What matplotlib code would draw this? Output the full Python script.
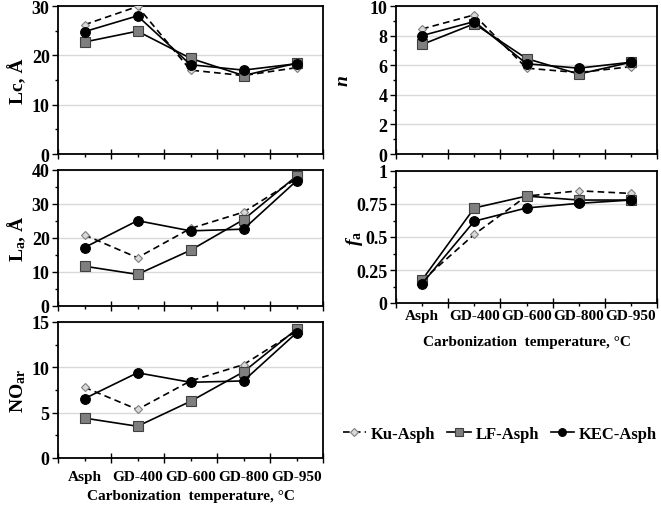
import matplotlib
matplotlib.use("Agg")
import matplotlib.pyplot as plt
from matplotlib.ticker import MultipleLocator, FixedLocator, NullFormatter, FuncFormatter
from matplotlib.lines import Line2D

plt.rcParams['font.family'] = ['Liberation Serif', 'DejaVu Serif']
plt.rcParams['font.weight'] = 'bold'
plt.rcParams['mathtext.fontset'] = 'custom'
plt.rcParams['mathtext.rm'] = 'Liberation Serif:bold'
plt.rcParams['mathtext.it'] = 'Liberation Serif:bold:italic'
plt.rcParams['mathtext.bf'] = 'Liberation Serif:bold'

categories = ["Asph", "GD-400", "GD-600", "GD-800", "GD-950"]
series_names = ["Ku-Asph", "LF-Asph", "KEC-Asph"]

lc_ku = [26.2, 29.9, 17.0, 15.9, 17.5]
lc_lf = [22.7, 24.9, 19.4, 15.9, 18.4]
lc_kec = [24.8, 28.0, 18.1, 17.0, 18.3]

n_ku = [8.45, 9.4, 5.8, 5.5, 5.9]
n_lf = [7.4, 8.8, 6.45, 5.4, 6.2]
n_kec = [8.0, 8.95, 6.1, 5.8, 6.2]

la_ku = [20.9, 14.2, 22.8, 27.6, 37.4]
la_lf = [11.7, 9.3, 16.4, 25.4, 38.2]
la_kec = [17.2, 25.1, 22.1, 22.6, 36.8]

noar_ku = [7.8, 5.35, 8.5, 10.3, 14.0]
noar_lf = [4.4, 3.5, 6.25, 9.5, 14.2]
noar_kec = [6.55, 9.4, 8.35, 8.5, 13.8]

fa_ku = [0.17, 0.52, 0.81, 0.85, 0.83]
fa_lf = [0.175, 0.72, 0.81, 0.78, 0.78]
fa_kec = [0.147, 0.62, 0.72, 0.755, 0.78]

W, H = 661, 510
fig = plt.figure(figsize=(W / 100, H / 100), dpi=100)

def rect(x0, x1, ytop, ybot):
    return [x0 / W, 1 - ybot / H, (x1 - x0) / W, (ybot - ytop) / H]

styles = [
    dict(color='black', ls=(0, (4, 2.5)), lw=1.2, marker='D', ms=4.5, mfc='#d9d9d9', mec='#7f7f7f', mew=0.8),
    dict(color='black', ls='-', lw=1.2, marker='s', ms=7, mfc='#7f7f7f', mec='#404040', mew=0.8),
    dict(color='black', ls='-', lw=1.2, marker='o', ms=7, mfc='black', mec='black', mew=0.8),
]

def setup(ax, data, ymax, major, minor, ylabel, showx, labelx, tickpad=2, xlabpad=4):
    x = list(range(len(categories)))
    for d, st in zip(data, styles):
        ax.plot(x, d, **st, zorder=3)
    ax.set_xlim(-0.5, len(categories) - 0.5)
    ax.set_ylim(0, ymax)
    ax.yaxis.set_major_locator(MultipleLocator(major))
    ax.yaxis.set_minor_locator(MultipleLocator(minor))
    ax.grid(axis='y', which='major', color='#d9d9d9', lw=1.0, zorder=0)
    ax.xaxis.set_major_locator(FixedLocator([i + 0.5 for i in range(-1, len(categories))]))
    ax.xaxis.set_minor_locator(FixedLocator(x))
    ax.xaxis.set_major_formatter(NullFormatter())
    ax.tick_params(axis='x', which='major', direction='inout', length=7, width=1.0)
    ax.tick_params(axis='x', which='minor', direction='out', length=2.0, width=1.0, labelsize=11, pad=tickpad)
    if showx:
        ax.set_xticklabels(categories, minor=True, fontsize=11, fontweight='bold')
        ax.set_xlabel('Carbonization  temperature, \u00b0C', fontsize=11, fontweight='bold', labelpad=xlabpad)
    else:
        ax.xaxis.set_minor_formatter(NullFormatter())
    ax.tick_params(axis='y', which='major', direction='out', length=4, width=1.0, labelsize=13, pad=2)
    ax.tick_params(axis='y', which='minor', direction='out', length=2.5, width=1.0)
    for lbl in ax.get_yticklabels():
        lbl.set_fontweight('bold')
    for sp in ax.spines.values():
        sp.set_linewidth(1.3)
        sp.set_color('black')
    ax.set_ylabel(ylabel, fontsize=14, fontweight='bold')
    ax.yaxis.set_label_coords(labelx, 0.5)

def fmt_fa(v, pos):
    return '%g' % v

ax1 = fig.add_axes(rect(58, 323, 7, 155))
setup(ax1, [lc_ku, lc_lf, lc_kec], 30, 10, 5, 'Lc, \u00c5', False, labelx=-0.115)

ax2 = fig.add_axes(rect(58, 323, 171, 307))
setup(ax2, [la_ku, la_lf, la_kec], 40, 10, 5, r'L$_{\mathrm{a}}$, ' + '\u00c5', False, labelx=-0.115)

ax3 = fig.add_axes(rect(58, 323, 323, 459))
setup(ax3, [noar_ku, noar_lf, noar_kec], 15, 5, 2.5, r'NO$_{\mathrm{ar}}$', True, labelx=-0.115,
      tickpad=7, xlabpad=4)

ax4 = fig.add_axes(rect(396, 657, 7, 155))
setup(ax4, [n_ku, n_lf, n_kec], 10, 2, 1, r'$n$', False, labelx=-0.17)

ax5 = fig.add_axes(rect(396, 657, 172, 304))
setup(ax5, [fa_ku, fa_lf, fa_kec], 1, 0.25, 0.125, r'$f_{\mathrm{a}}$', True, labelx=-0.12,
      tickpad=2, xlabpad=10)
ax5.yaxis.set_major_formatter(FuncFormatter(fmt_fa))

handles = [Line2D([0], [0], **st) for st in styles]
for h in handles:
    h.set_markersize(h.get_markersize() * 0.8)
fig.legend(handles, series_names, loc='center', bbox_to_anchor=(500 / W, 1 - 435 / H),
           ncol=3, frameon=False, handlelength=1.4, handletextpad=0.3, columnspacing=0.7,
           borderpad=0.1, prop=dict(family='Liberation Serif', weight='bold', size=12))

fig.savefig('out.png', dpi=100)
